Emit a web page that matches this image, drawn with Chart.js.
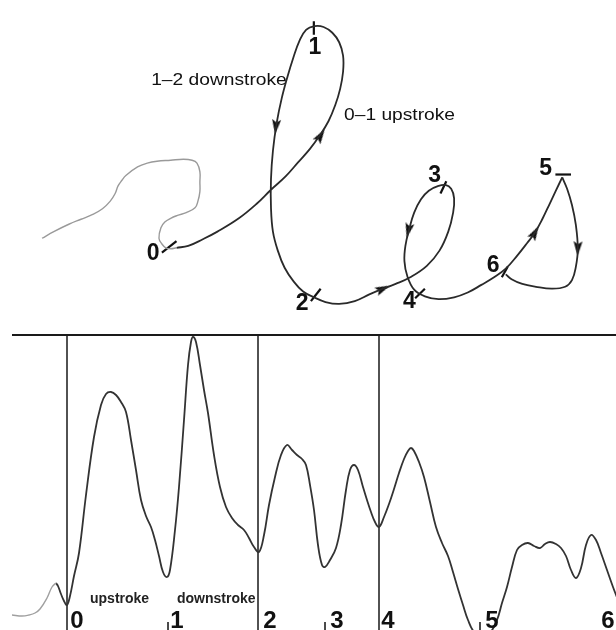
<!DOCTYPE html>
<html>
<head>
<meta charset="utf-8">
<script src="https://cdn.jsdelivr.net/npm/chart.js@4.4.0/dist/chart.umd.min.js"></script>
<style>
html,body{margin:0;padding:0;background:#fff;}
canvas{display:block;}
#wrap{position:relative;width:616px;height:630px;overflow:hidden;}
#top{position:absolute;left:0;top:0;}
#bot{position:absolute;left:0;top:330px;}
</style>
</head>
<body>
<div id="wrap">
<canvas id="top" width="616" height="330"></canvas>
<canvas id="bot" width="616" height="300"></canvas>
</div>
<script>
// ---------- DATA: pen trajectory (x, y in pen units, y grows downward) ----------
const preStroke = [[35,242],[47,235],[63,227],[75,222],[87,217],[97,211],[105,203],[110,195],[113,187],[117,181],[121,176],[133,167],[143,163],[153,161],[167,160],[180,159],[189,160],[194,163],[197,172],[197,183],[197,193],[195,203],[192,210],[183,215],[174,218],[167,221],[161,225],[157,231],[155,242],[158,248],[162,252],[167,253],[173,252]];
const strokeTo5 = [[173,252],[185,250],[200,243],[215,235],[237,221],[255,206],[270,191],[285,177],[298,162],[310,148],[320,134],[329,119],[336,102],[341,85],[344,67],[344,50],[340,36],[333,26],[324,20],[315,19],[306,23],[299,35],[293,52],[287,72],[281,95],[276,120],[272,150],[270,180],[270,210],[272,235],[277,255],[284,273],[293,287],[303,298],[314,304],[326,309],[340,311],[356,308],[371,301],[385,295],[398,290],[413,283],[430,271],[443,255],[452,235],[457,215],[458,200],[455,190],[449,186],[442,187],[432,192],[424,201],[417,215],[412,232],[408,250],[407,266],[410,282],[417,296],[428,303],[442,306],[458,304],[472,299],[486,291],[499,283],[511,274],[523,260],[533,247],[541,236],[549,221],[556,206],[562,193],[569,178]];
const strokeFrom5 = [[569,178],[574,190],[579,207],[583,228],[585,253],[583,272],[579,286],[572,293],[558,295],[542,293],[528,290],[517,285],[511,280]];
// arrowheads along the trajectory: position and heading (degrees, clockwise from up)
const arrowPts = [[321,134],[275,125],[385,295],[411,234],[541,236],[585,253]];
const arrowHeading = [33,186,66,193,30,182];
// segment markers (points 0..6)
const pointMarks = [[[158,257],[173,245]],[[314,14],[314,28]],[[311,308],[321,295]],[[444,195],[450,182]],[[418,305],[428,295]],[[562,175],[578,175]],[[507,283],[513,272]]];
const pointNames = ['0','1','2','3','4','5','6'];

// ---------- DATA: tangential velocity vs time ----------
const speedPre = [[12,15],[22,14],[29,15],[35,17],[40,21],[47,32],[52,43],[56,47]];
const speed = [[56,47],[58,44],[61,36],[64,29],[67,25],[70,34],[74,54],[79,77],[86,135],[94,193],[101,225],[106,236],[111,238],[116,235],[121,228],[126,218],[131,190],[136,160],[141,130],[146,114],[151,103],[155,90],[159,74],[163,58],[167,53],[170,60],[175,100],[179,143],[184,210],[188,265],[191,288],[193,293],[196,288],[200,265],[204,240],[208,217],[214,175],[220,143],[226,123],[232,112],[238,105],[244,100],[249,92],[254,83],[259,78],[264,95],[269,125],[275,153],[281,175],[287,185],[292,180],[297,175],[302,171],[306,165],[310,145],[314,120],[318,85],[322,65],[325,63],[330,70],[336,82],[341,105],[346,140],[350,160],[354,165],[358,160],[363,143],[367,130],[371,118],[375,108],[379,103],[384,113],[389,126],[394,141],[399,157],[404,171],[408,179],[411,182],[414,179],[419,168],[424,153],[430,128],[436,103],[442,87],[448,74],[453,58],[458,41],[463,25],[468,10],[474,-2],[482,-8],[490,-3],[497,10],[502,27],[507,43],[512,63],[517,80],[522,85],[528,87],[534,84],[540,82],[545,86],[550,88],[556,86],[561,82],[566,74],[571,60],[576,52],[581,62],[586,85],[591,95],[596,90],[601,77],[607,60],[613,43],[618,30]];
const boundaryTimes = [67,258,379];
const minorTimes = [168,325,480];
const panelTop = 295;
const timeLabels = [['0',77],['1',177],['2',270],['3',337],['4',388],['5',492],['6',608]];

// ---------- helpers ----------
const FONT = '"Liberation Sans", Arial, Helvetica, sans-serif';
const toXY = a => a.map(p => ({x:p[0], y:p[1]}));
function arrowCanvas(){
  const c = document.createElement('canvas'); c.width = 9; c.height = 15;
  const g = c.getContext('2d');
  g.fillStyle = '#111'; g.beginPath(); g.moveTo(4.5,0); g.lineTo(9,15); g.lineTo(4.5,12); g.lineTo(0,15); g.closePath(); g.fill();
  return c;
}
function labelPlugin(items){
  return {id:'labels', afterDatasetsDraw(chart){
    const ctx = chart.ctx, xs = chart.scales.x, ys = chart.scales.y;
    items.forEach(it => {
      ctx.save();
      ctx.font = it.font; ctx.fillStyle = it.color || '#111';
      ctx.textAlign = it.align || 'center'; ctx.textBaseline = 'alphabetic';
      ctx.translate(xs.getPixelForValue(it.x), ys.getPixelForValue(it.y));
      ctx.scale(it.sx || 1, 1);
      ctx.fillText(it.text, 0, 0);
      ctx.restore();
    });
  }};
}
function baseOptions(ymin, ymax, rev){
  return {responsive:false, animation:false, events:[], layout:{padding:0},
    plugins:{legend:{display:false}, tooltip:{enabled:false}},
    elements:{point:{radius:0}},
    scales:{x:{type:'linear', min:0, max:616, display:false},
            y:{type:'linear', min:ymin, max:ymax, reverse:rev, display:false}}};
}

// ---------- top chart: pen trajectory ----------
const topSets = [
  {data:toXY(preStroke), showLine:true, borderColor:'#9a9a9a', borderWidth:1.4, tension:0.4},
  {data:toXY(strokeTo5), showLine:true, borderColor:'#2a2a2a', borderWidth:1.8, tension:0.4},
  {data:toXY(strokeFrom5), showLine:true, borderColor:'#2a2a2a', borderWidth:1.8, tension:0.4},
  {data:toXY(arrowPts), showLine:false, pointStyle:arrowCanvas(), pointRadius:7, pointRotation:arrowHeading}
];
pointMarks.forEach(seg => topSets.push({data:toXY(seg), showLine:true, borderColor:'#111', borderWidth:2.2, tension:0}));
const topLabelAnchors = [[149,265],[315,48],[302,317],[438,183],[412,315],[552,175],[498,277]];
const topLabels = pointNames.map((n,i) => ({text:n, x:topLabelAnchors[i][0], y:topLabelAnchors[i][1], font:'bold 23px '+FONT}));
topLabels.push({text:'1\u20132 downstroke', x:147, y:81, align:'left', sx:1.2, font:'16px '+FONT, color:'#111'});
topLabels.push({text:'0\u20131 upstroke', x:345, y:118, align:'left', sx:1.2, font:'16px '+FONT, color:'#111'});
new Chart(document.getElementById('top'), {type:'scatter', data:{datasets:topSets},
  options:baseOptions(0,330,true), plugins:[labelPlugin(topLabels)]});

// ---------- bottom chart: velocity profile ----------
const botSets = [
  {data:toXY(speedPre), showLine:true, borderColor:'#a0a0a0', borderWidth:1.4, tension:0.4},
  {data:toXY(speed), showLine:true, borderColor:'#333', borderWidth:1.8, tension:0.4},
  {data:[{x:12,y:panelTop},{x:616,y:panelTop}], showLine:true, borderColor:'#1a1a1a', borderWidth:2.2}
];
boundaryTimes.forEach(t => botSets.push({data:[{x:t,y:panelTop},{x:t,y:-5}], showLine:true, borderColor:'#1a1a1a', borderWidth:1.5}));
minorTimes.forEach(t => botSets.push({data:[{x:t,y:8},{x:t,y:-5}], showLine:true, borderColor:'#333', borderWidth:1}));
const botLabels = timeLabels.map(l => ({text:l[0], x:l[1], y:2, font:'bold 24px '+FONT}));
botLabels.push({text:'upstroke', x:90, y:27, align:'left', font:'bold 14px '+FONT, color:'#222'});
botLabels.push({text:'downstroke', x:177, y:27, align:'left', font:'bold 14px '+FONT, color:'#222'});
new Chart(document.getElementById('bot'), {type:'scatter', data:{datasets:botSets},
  options:baseOptions(0,300,false), plugins:[labelPlugin(botLabels)]});
</script>
</body>
</html>
